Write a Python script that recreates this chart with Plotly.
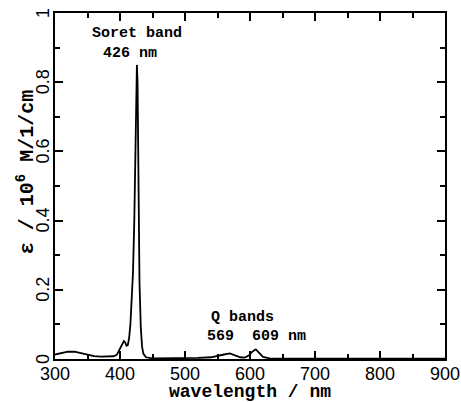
import plotly.graph_objects as go

wavelength = [300, 310, 320, 330, 340, 350, 360, 370, 380, 390, 395, 400, 403, 406, 408, 410,
              412, 414, 416, 418, 420, 422, 424, 425, 426, 427, 428, 429, 430, 432, 434, 436,
              440, 450, 500, 520, 540, 550, 560, 569, 578, 585, 592, 598, 604, 609, 614, 620,
              630, 650, 700, 900]
epsilon = [0.013, 0.018, 0.021, 0.021, 0.017, 0.011, 0.008, 0.007, 0.007, 0.008, 0.012, 0.030,
           0.045, 0.052, 0.048, 0.038, 0.040, 0.060, 0.10, 0.17, 0.25, 0.40, 0.70, 0.82, 0.85,
           0.80, 0.62, 0.40, 0.22, 0.09, 0.035, 0.015, 0.005, 0.002, 0.002, 0.003, 0.005, 0.008,
           0.013, 0.016, 0.011, 0.005, 0.004, 0.010, 0.022, 0.028, 0.018, 0.006, 0.002, 0.001,
           0.001, 0.001]

x_ticks = [300, 400, 500, 600, 700, 800, 900]
x_labels = ["300", "400", "500", "600", "700", "800", "900"]
y_ticks = [0, 0.2, 0.4, 0.6, 0.8, 1.0]
y_labels = ["0", "0.2", "0.4", "0.6", "0.8", "1"]

ann_text = ["Soret band", "426 nm", "Q bands", "569  609 nm"]
ann_x = [426, 416, 589, 610]
ann_y = [0.942, 0.884, 0.121, 0.064]

y_title = "<b>\u03b5 / 10<sup>6</sup> M/1/cm</b>"
x_title = "<b>wavelength / nm</b>"

mono = "Liberation Mono"
sans = "Liberation Sans"

fig = go.Figure()
fig.add_trace(go.Scatter(x=wavelength, y=epsilon, mode="lines",
                         line=dict(color="black", width=1.8), showlegend=False))

for t, x, y in zip(ann_text, ann_x, ann_y):
    fig.add_annotation(x=x, y=y, xref="x", yref="y", text="<b>" + t + "</b>", showarrow=False,
                       font=dict(family=mono, size=15, color="black"))

# rotated y tick labels
for v, lab in zip(y_ticks, y_labels):
    fig.add_annotation(x=0, y=v, xref="paper", yref="y", text=lab, showarrow=False,
                       textangle=-90, xanchor="center", yanchor="middle", xshift=-12,
                       font=dict(family=sans, size=18, color="black"))

# y axis title
fig.add_annotation(x=0, y=0.54, xref="paper", yref="paper", text=y_title, showarrow=False,
                   textangle=-90, xanchor="center", yanchor="middle", xshift=-29,
                   font=dict(family=mono, size=20, color="black"))

axis_common = dict(showline=True, linecolor="black", linewidth=2, mirror="ticks",
                   ticks="inside", ticklen=8, tickwidth=1.5, tickcolor="black",
                   showgrid=False, zeroline=False, automargin=False,
                   tickfont=dict(family=sans, size=18, color="black"))

fig.update_xaxes(range=[300, 900], tickmode="array", tickvals=x_ticks, ticktext=x_labels,
                 ticklabelstandoff=-3,
                 minor=dict(dtick=50, tick0=300, ticks="inside", ticklen=5, tickwidth=1.5, tickcolor="black"),
                 title=dict(text=x_title, font=dict(family=mono, size=18, color="black"), standoff=2),
                 **axis_common)
fig.update_yaxes(range=[0, 1], tickmode="array", tickvals=y_ticks, ticktext=y_labels,
                 showticklabels=False,
                 minor=dict(dtick=0.1, tick0=0, ticks="inside", ticklen=5, tickwidth=1.5, tickcolor="black"),
                 **axis_common)

fig.update_layout(width=461, height=402, margin=dict(l=55, r=16, t=13, b=43),
                  plot_bgcolor="white", paper_bgcolor="white")

fig.write_html("out.html", config={"displayModeBar": False},
               post_script="document.body.style.margin='0';")
